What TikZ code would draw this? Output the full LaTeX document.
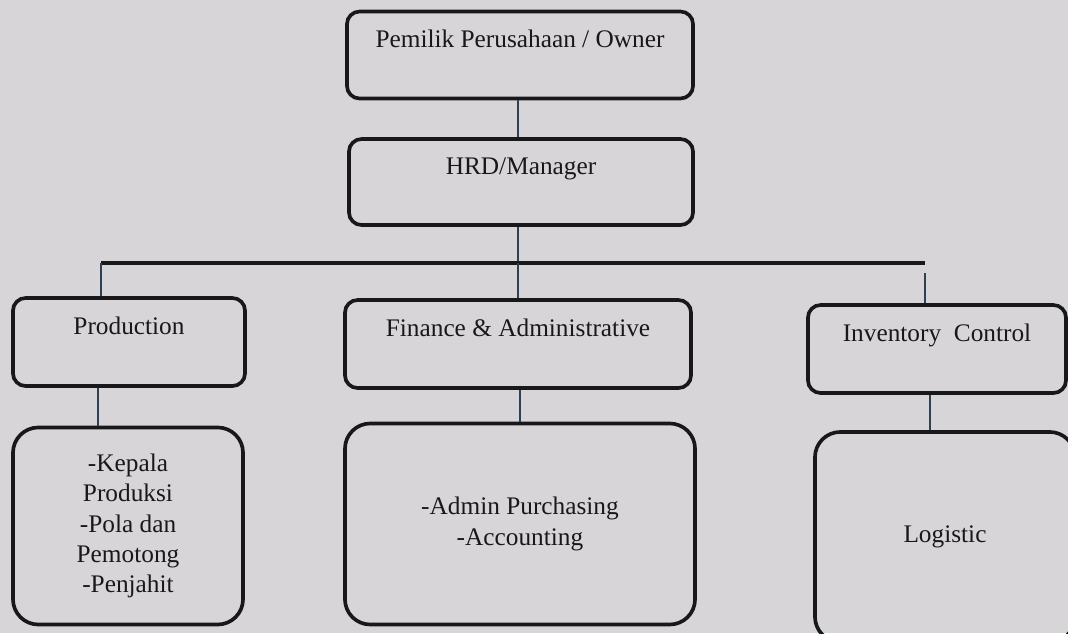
\documentclass[tikz,border=0pt]{standalone}
\usepackage{fontspec}
\setmainfont{Liberation Serif}
\definecolor{paper}{RGB}{216,213,217}
\definecolor{ink}{RGB}{24,24,26}
\definecolor{slate}{RGB}{45,65,85}

\begin{document}
\begin{tikzpicture}[x=0.025cm, y=-0.025cm,
  box/.style={draw=ink, line width=2.6pt, rounded corners=9pt, text=ink,
    font=\fontsize{18}{21.5}\selectfont, align=center, inner sep=0pt},
  headbox/.style={box, text depth=0.8cm},
  listbox/.style={box, rounded corners=18pt},
  link/.style={draw=slate, line width=1.1pt},
  bus/.style={draw=ink, line width=2.4pt}]
  \fill[paper] (0,0) rectangle (1068,633);
  \useasboundingbox (0,0) rectangle (1068,633);
  \clip (0,0) rectangle (1068,633);
  % top
  \node[headbox, minimum width=8.65cm, minimum height=2.175cm] (owner) at (520,55)
    {Pemilik Perusahaan / Owner};
  \node[headbox, minimum width=8.6cm, minimum height=2.15cm] (hrd) at (521,182)
    {HRD/Manager};
  % divisions
  \node[headbox, minimum width=5.8cm, minimum height=2.2cm] (prod) at (129,342)
    {Production};
  \node[headbox, minimum width=8.65cm, minimum height=2.2cm] (fin) at (518,344)
    {Finance \& Administrative};
  \node[headbox, minimum width=6.45cm, minimum height=2.2cm] (inv) at (937,349)
    {Inventory\ \ Control};
  % staff
  \node[listbox, minimum width=5.75cm, minimum height=4.925cm] (staffprod) at (128,526)
    {-Kepala\\Produksi\\-Pola dan\\Pemotong\\-Penjahit};
  \node[listbox, minimum width=8.75cm, minimum height=5.025cm] (stafffin) at (520,524)
    {-Admin Purchasing\\-Accounting};
  \node[listbox, minimum width=6.5cm, minimum height=5.25cm] (staffinv) at (945,537)
    {Logistic};
  % connectors
  \coordinate (busL) at (101,263);
  \coordinate (busM) at (518,263);
  \coordinate (busR) at (925,263);
  \coordinate (dropprod) at (98,0);
  \coordinate (dropfin) at (520,0);
  \coordinate (dropinv) at (930,0);
  \draw[link] (owner.south -| busM) -- (hrd.north -| busM);
  \draw[link] (hrd.south -| busM) -- (busM);
  \draw[bus] (busL) -- (busR);
  \draw[link] (busL) -- (busL |- prod.north);
  \draw[link] (busM) -- (busM |- fin.north);
  \draw[link] ([yshift=-0.25cm]busR) -- (busR |- inv.north);
  \draw[link] (prod.south -| dropprod) -- (staffprod.north -| dropprod);
  \draw[link] (fin.south -| dropfin) -- (stafffin.north -| dropfin);
  \draw[link] (inv.south -| dropinv) -- (staffinv.north -| dropinv);
\end{tikzpicture}
\end{document}
